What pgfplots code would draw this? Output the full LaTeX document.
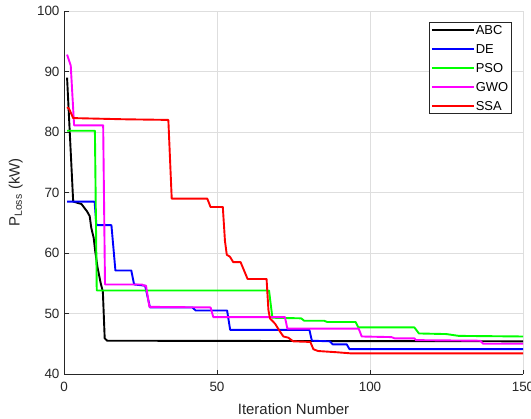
\documentclass[border=0pt]{standalone}
\usepackage{fontspec}
\setmainfont{Liberation Sans}
\usepackage{pgfplots}
\pgfplotsset{compat=1.18}
\definecolor{axgray}{gray}{0.15}
\definecolor{gridgray}{gray}{0.87}
\definecolor{cABC}{rgb}{0,0,0}
\definecolor{cDE}{rgb}{0,0,1}
\definecolor{cPSO}{rgb}{0,1,0}
\definecolor{cGWO}{rgb}{1,0,1}
\definecolor{cSSA}{rgb}{1,0,0}
\begin{document}
\begin{tikzpicture}
\path[use as bounding box] (-64bp,-45bp) rectangle (467bp,374bp);
\begin{axis}[
 scale only axis, width=459bp, height=363bp,
 xmin=0,xmax=150,ymin=40,ymax=100,
 xtick={0,50,100,150}, ytick={40,50,...,100},
 axis x line*=bottom, axis y line*=left,
 axis line style={axgray, line width=0.6bp},
 tick align=inside, major tick length=4.5bp,
 tick style={axgray, line width=0.6bp},
 grid=major, grid style={gridgray, line width=0.6bp},
 /pgf/number format/assume math mode=true,
 ticklabel style={font=\fontsize{13.5}{16}\selectfont, text=axgray},
 xticklabel style={yshift=-5bp},
 yticklabel style={xshift=-1bp},
 label style={font=\fontsize{15}{18}\selectfont, text=axgray},
 xlabel={Iteration Number},
 ylabel={P\textsubscript{Loss} (kW)},
 xlabel style={at={(axis description cs:0.5,-0.098)}, anchor=center},
 ylabel style={at={(axis description cs:-0.105,0.5)}, anchor=center},
 legend style={at={(rel axis cs:0.975,0.970)}, anchor=north east, draw=axgray, line width=0.6bp, fill=white,
   font=\fontsize{13}{13}\selectfont, inner sep=2bp, row sep=7.5bp,
   nodes={inner sep=1bp, text height=9.5bp, text depth=0bp},
   /tikz/every even column/.append style={column sep=3bp}},
 legend cell align=left,
 legend image code/.code={\draw[#1] (0bp,0bp) -- (42bp,0bp);},
]
\addplot[color=cABC, line width=1.9bp, line join=round] coordinates {(1,89.0) (3,68.5) (5.7,68.1) (7.5,66.9) (8.4,66.1) (8.9,64.2) (9.7,62.5) (10.2,60.3) (11,57.5) (12,55) (12.7,53.6) (13.3,45.9) (14.1,45.5) (150,45.4)};
\addlegendentry{ABC}
\addplot[color=cDE, line width=1.9bp, line join=round] coordinates {(1,68.5) (10,68.5) (10.6,64.6) (15.5,64.6) (16.8,57.1) (22,57.1) (22.9,54.8) (26.5,54.6) (28.1,51.0) (42,51.0) (43,50.5) (53.3,50.5) (54.3,47.3) (80.2,47.3) (81,45.5) (86.9,45.4) (87.8,44.9) (92.4,44.9) (93.3,44.1) (150,44.1)};
\addlegendentry{DE}
\addplot[color=cPSO, line width=1.9bp, line join=round] coordinates {(1,80.2) (10.1,80.2) (10.7,53.8) (67,53.8) (68.1,49.3) (77.5,49.2) (78.5,48.8) (85,48.8) (86,48.6) (95.3,48.6) (96.2,47.7) (114.5,47.7) (116,46.7) (125,46.6) (129,46.3) (150,46.2)};
\addlegendentry{PSO}
\addplot[color=cGWO, line width=1.9bp, line join=round] coordinates {(1,92.8) (2.2,91) (3.3,81.1) (12.8,81.1) (13.4,54.8) (25.5,54.8) (26,54.6) (26.8,54.6) (27.9,51.1) (47.9,51.0) (48.8,49.4) (72.2,49.4) (73,47.5) (96.3,47.5) (97.3,46.2) (107,46.1) (108,45.9) (114.5,45.9) (115,45.6) (136,45.5) (137,45.0) (150,45.0)};
\addlegendentry{GWO}
\addplot[color=cSSA, line width=1.9bp, line join=round] coordinates {(1,84.1) (1.7,83.8) (3.0,82.3) (20,82.1) (34.1,82.0) (35.2,69.0) (46.8,69.0) (47.9,67.6) (51.9,67.6) (52.6,62) (53.2,59.7) (54.2,59.4) (55.3,58.5) (57.7,58.5) (60,55.7) (66.2,55.7) (66.8,50.6) (67.3,49.2) (69,48.3) (70.6,47.0) (71.7,46.2) (73.3,46.0) (74.9,45.4) (80.5,45.3) (81.5,44.1) (83,43.8) (89,43.6) (94,43.4) (150,43.4)};
\addlegendentry{SSA}
\end{axis}
\end{tikzpicture}
\end{document}
